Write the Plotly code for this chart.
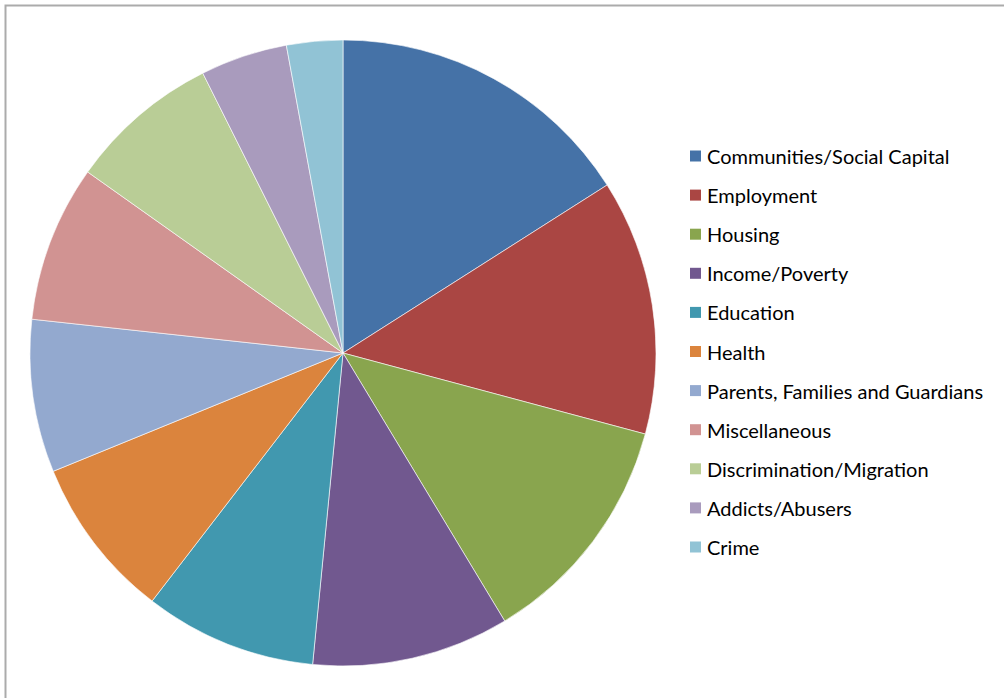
import plotly.graph_objects as go

categories = ["Communities/Social Capital", "Employment", "Housing", "Income/Poverty",
              "Education", "Health", "Parents, Families and Guardians", "Miscellaneous",
              "Discrimination/Migration", "Addicts/Abusers", "Crime"]
values = [16.0, 13.2, 12.2, 10.2, 8.9, 8.4, 7.9, 8.1, 7.8, 4.5, 2.9]
colors = ["#4572A7", "#AA4643", "#89A54E", "#71588F", "#4198AF", "#DB843D",
          "#93A9CF", "#D19392", "#B9CD96", "#A99BBD", "#91C3D5"]

W, H = 1004, 698


def px(x):
    return x / W


def py(y):
    return (H - y) / H


fig = go.Figure(go.Pie(
    labels=categories, values=values, sort=False, direction="clockwise", rotation=0,
    marker=dict(colors=colors, line=dict(color="rgba(255,255,255,0.6)", width=1)),
    textinfo="none", hoverinfo="label+percent", showlegend=False,
    domain=dict(x=[px(30), px(656)], y=[py(666), py(40)]),
))

# manual legend (Excel-style spacing)
shapes = [dict(type="rect", xref="paper", yref="paper", x0=px(5.5), x1=1.2, y0=-0.2, y1=py(5.5),
               line=dict(color="#ABABAB", width=2), fillcolor="rgba(0,0,0,0)", layer="below")]
annotations = []
y0, step = 156, 39.1
for i, (lab, col) in enumerate(zip(categories, colors)):
    yc = y0 + i * step
    shapes.append(dict(type="rect", xref="paper", yref="paper",
                       x0=px(690), x1=px(701), y0=py(yc + 5.5), y1=py(yc - 5.5),
                       fillcolor=col, line=dict(width=0)))
    annotations.append(dict(text=lab, xref="paper", yref="paper", x=px(705), y=py(yc),
                            xanchor="left", yanchor="middle", showarrow=False,
                            font=dict(family="Lato", size=20, color="#000000")))

fig.update_layout(
    width=W, height=H, margin=dict(l=0, r=0, t=0, b=0),
    paper_bgcolor="white", plot_bgcolor="white",
    shapes=shapes, annotations=annotations,
)

fig.write_html("out.html", config={"displayModeBar": False},
               post_script="document.body.style.margin='0';")
